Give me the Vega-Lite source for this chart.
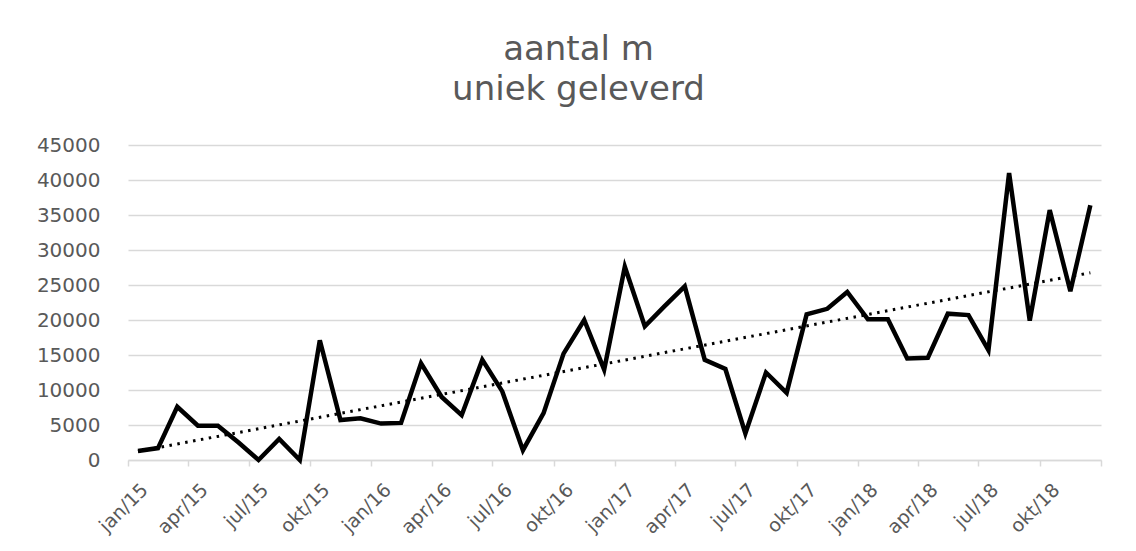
{
  "$schema": "https://vega.github.io/schema/vega-lite/v6.json",
  "width": 973,
  "height": 315,
  "autosize": {"type": "none"},
  "padding": {"left": 128, "top": 145, "right": 35, "bottom": 91},
  "background": "white",
  "title": {
    "text": ["aantal m", "uniek geleverd"],
    "font": "DejaVu Sans",
    "fontSize": 34,
    "fontWeight": "normal",
    "lineHeight": 40,
    "color": "#595959",
    "anchor": "middle",
    "dx": -36,
    "offset": 28
  },
  "data": {
    "values": [
      {"date": "2015-01-16", "value": 1300},
      {"date": "2015-02-15", "value": 1700},
      {"date": "2015-03-16", "value": 7600},
      {"date": "2015-04-16", "value": 4900},
      {"date": "2015-05-16", "value": 4900},
      {"date": "2015-06-16", "value": 2500},
      {"date": "2015-07-16", "value": 0},
      {"date": "2015-08-16", "value": 3000},
      {"date": "2015-09-16", "value": 0},
      {"date": "2015-10-16", "value": 17100},
      {"date": "2015-11-16", "value": 5700},
      {"date": "2015-12-16", "value": 5950},
      {"date": "2016-01-16", "value": 5200},
      {"date": "2016-02-15", "value": 5300},
      {"date": "2016-03-16", "value": 13800},
      {"date": "2016-04-16", "value": 9000},
      {"date": "2016-05-16", "value": 6400},
      {"date": "2016-06-16", "value": 14300},
      {"date": "2016-07-16", "value": 9800},
      {"date": "2016-08-16", "value": 1400},
      {"date": "2016-09-16", "value": 6700},
      {"date": "2016-10-16", "value": 15200},
      {"date": "2016-11-16", "value": 20000},
      {"date": "2016-12-16", "value": 12900},
      {"date": "2017-01-16", "value": 27600},
      {"date": "2017-02-15", "value": 19100},
      {"date": "2017-03-16", "value": 21900},
      {"date": "2017-04-16", "value": 24800},
      {"date": "2017-05-16", "value": 14300},
      {"date": "2017-06-16", "value": 13000},
      {"date": "2017-07-16", "value": 3800},
      {"date": "2017-08-16", "value": 12500},
      {"date": "2017-09-16", "value": 9600},
      {"date": "2017-10-16", "value": 20800},
      {"date": "2017-11-16", "value": 21600},
      {"date": "2017-12-16", "value": 24000},
      {"date": "2018-01-16", "value": 20100},
      {"date": "2018-02-15", "value": 20100},
      {"date": "2018-03-16", "value": 14500},
      {"date": "2018-04-16", "value": 14600},
      {"date": "2018-05-16", "value": 20900},
      {"date": "2018-06-16", "value": 20700},
      {"date": "2018-07-16", "value": 15700},
      {"date": "2018-08-16", "value": 41000},
      {"date": "2018-09-16", "value": 19900},
      {"date": "2018-10-16", "value": 35700},
      {"date": "2018-11-16", "value": 24100},
      {"date": "2018-12-16", "value": 36400}
    ],
    "format": {"parse": {"date": "date"}}
  },
  "encoding": {
    "x": {
      "field": "date",
      "type": "temporal",
      "scale": {
        "type": "utc",
        "domain": [
          {"year": 2015, "month": 1, "date": 1, "utc": true},
          {"year": 2019, "month": 1, "date": 1, "utc": true}
        ]
      },
      "axis": {
        "title": null,
        "tickCount": {"interval": "month", "step": 3},
        "grid": false,
        "domainColor": "#d9d9d9",
        "domainWidth": 1.5,
        "tickColor": "#d9d9d9",
        "tickWidth": 1.5,
        "tickSize": 6,
        "labelAngle": -45,
        "labelAlign": "right",
        "labelBaseline": "top",
        "labelFont": "DejaVu Sans",
        "labelFontSize": 19,
        "labelColor": "#595959",
        "labelPadding": 14,
        "labelOffset": 10,
        "labelOverlap": false,
        "labelFlush": false,
        "labelBound": false,
        "labelExpr": "utcyear(datum.value) >= 2019 ? '' : ['jan','feb','mrt','apr','mei','jun','jul','aug','sep','okt','nov','dec'][utcmonth(datum.value)] + '/' + utcFormat(datum.value, '%y')"
      }
    },
    "y": {
      "field": "value",
      "type": "quantitative",
      "scale": {"domain": [0, 45000], "nice": false},
      "axis": {
        "title": null,
        "values": [0, 5000, 10000, 15000, 20000, 25000, 30000, 35000, 40000, 45000],
        "format": "d",
        "domain": false,
        "ticks": false,
        "gridColor": "#d9d9d9",
        "gridWidth": 1.5,
        "labelFont": "DejaVu Sans",
        "labelFontSize": 20,
        "labelColor": "#595959",
        "labelPadding": 28
      }
    }
  },
  "layer": [
    {
      "mark": {"type": "line", "color": "black", "strokeWidth": 4.5, "strokeJoin": "miter", "clip": false}
    },
    {
      "transform": [{"regression": "value", "on": "date"}],
      "mark": {"type": "line", "color": "black", "strokeWidth": 3, "strokeDash": [2.5, 5.5]}
    }
  ],
  "config": {
    "view": {"stroke": null}
  }
}
